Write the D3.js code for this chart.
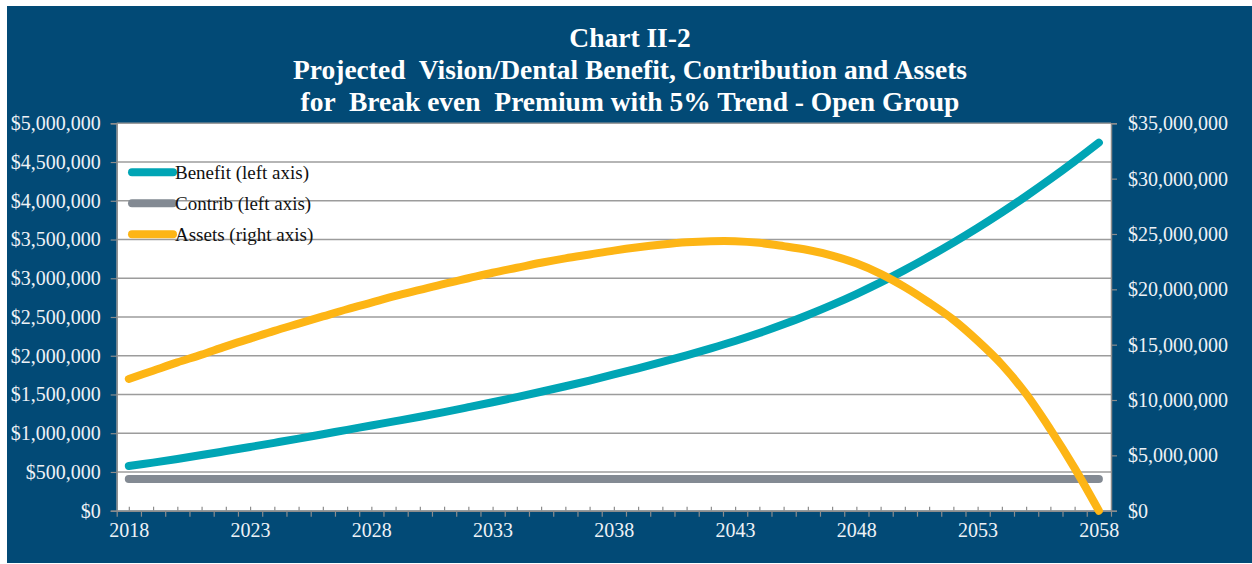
<!DOCTYPE html>
<html><head><meta charset="utf-8">
<script src="https://cdn.jsdelivr.net/npm/d3@7"></script>
<style>
html,body{margin:0;padding:0;background:#fff;}
svg{display:block;}
text{font-family:"Liberation Serif","Times New Roman",serif;}
</style></head>
<body>
<svg id="chart" width="1252" height="564"></svg>
<script>
const years = [2018,2019,2020,2021,2022,2023,2024,2025,2026,2027,2028,2029,2030,2031,2032,2033,2034,2035,2036,2037,2038,2039,2040,2041,2042,2043,2044,2045,2046,2047,2048,2049,2050,2051,2052,2053,2054,2055,2056,2057,2058];
const benefit = [576000,620000,668000,718000,770000,823000,876000,930000,987000,1043000,1100000,1156000,1213000,1273000,1336000,1400000,1466000,1535000,1606000,1680000,1758000,1838000,1920000,2005000,2095000,2190000,2293000,2405000,2526000,2656000,2796000,2946000,3108000,3280000,3460000,3650000,3850000,4060000,4280000,4510000,4750000];
const contrib = [410000,410000,410000,410000,410000,410000,410000,410000,410000,410000,410000,410000,410000,410000,410000,410000,410000,410000,410000,410000,410000,410000,410000,410000,410000,410000,410000,410000,410000,410000,410000,410000,410000,410000,410000,410000,410000,410000,410000,410000,410000];
const assets = [11900000,12650000,13400000,14100000,14850000,15550000,16250000,16900000,17550000,18200000,18800000,19400000,19950000,20500000,21000000,21500000,21950000,22400000,22800000,23150000,23500000,23800000,24050000,24250000,24350000,24350000,24200000,23900000,23550000,23050000,22350000,21400000,20200000,18800000,17250000,15350000,13200000,10550000,7350000,3850000,0];
const leftTicks = [0,500000,1000000,1500000,2000000,2500000,3000000,3500000,4000000,4500000,5000000];
const rightTicks = [0,5000000,10000000,15000000,20000000,25000000,30000000,35000000];
const yearLabels = [2018,2023,2028,2033,2038,2043,2048,2053,2058];
const titleLines = ["Chart II-2","Projected  Vision/Dental Benefit, Contribution and Assets","for  Break even  Premium with 5% Trend - Open Group"];
const seriesNames = ["Benefit (left axis)","Contrib (left axis)","Assets (right axis)"];
const seriesColors = ["#00a5b5","#838a93","#fdb515"];

const svg = d3.select("#chart");
const L = 116.7, R = 1111, T = 123.3, B = 510.7;
const navy = "#024a76";
const fmt = d3.format("$,");

svg.append("rect").attr("x",7).attr("y",6).attr("width",1245).attr("height",557).attr("fill",navy);
svg.append("rect").attr("x",L).attr("y",T).attr("width",R-L).attr("height",B-T).attr("fill","#fff");

const x = d3.scaleLinear().domain([years[0]-0.5, years[years.length-1]+0.5]).range([L,R]);
const yL = d3.scaleLinear().domain([0,5000000]).range([B,T]);
const yR = d3.scaleLinear().domain([0,35000000]).range([B,T]);

// gridlines
svg.append("g").selectAll("line").data(leftTicks.slice(1)).join("line")
  .attr("x1",L).attr("x2",R).attr("y1",d=>yL(d)).attr("y2",d=>yL(d))
  .attr("stroke","#9c9c9c").attr("stroke-width",1.4);

const axisColor = "#8c8c8c";
function styleAxis(g){
  g.select(".domain").attr("stroke",axisColor).attr("stroke-width",1.5);
  g.selectAll(".tick line").attr("stroke",axisColor).attr("stroke-width",1.2);
  g.selectAll("text").attr("fill","#eef2f6").style("font-size","20px").style("font-family","'Liberation Serif',serif");
}
// left axis
const gl = svg.append("g").attr("transform",`translate(${L},0)`)
  .call(d3.axisLeft(yL).tickValues(leftTicks).tickFormat(fmt).tickSize(6).tickPadding(10));
styleAxis(gl);
// right axis
const gr = svg.append("g").attr("transform",`translate(${R},0)`)
  .call(d3.axisRight(yR).tickValues(rightTicks).tickFormat(fmt).tickSize(6).tickPadding(11));
styleAxis(gr);
// x axis: minor inside ticks at category centres
const gxm = svg.append("g").attr("transform",`translate(0,${B})`)
  .call(d3.axisBottom(x).tickValues(years).tickFormat("").tickSizeInner(-4).tickSizeOuter(0));
styleAxis(gxm);
// x axis: major outside ticks at category boundaries
const bounds = years.map(d=>d-0.5).concat([years[years.length-1]+0.5]);
const gxb = svg.append("g").attr("transform",`translate(0,${B})`)
  .call(d3.axisBottom(x).tickValues(bounds).tickFormat("").tickSizeInner(6).tickSizeOuter(0));
styleAxis(gxb);
// x labels
const gxl = svg.append("g").attr("transform",`translate(0,${B})`)
  .call(d3.axisBottom(x).tickValues(yearLabels).tickFormat(d3.format("d")).tickSize(0).tickPadding(12));
styleAxis(gxl);
gxl.select(".domain").remove();

// series
const curve = d3.curveCatmullRom.alpha(0.5);
const lineL = d3.line().x((d,i)=>x(years[i])).y(d=>yL(d)).curve(curve);
const lineR = d3.line().x((d,i)=>x(years[i])).y(d=>yR(d)).curve(curve);
const g = svg.append("g").attr("fill","none").attr("stroke-width",8).attr("stroke-linecap","round").attr("stroke-linejoin","round");
g.append("path").attr("d",lineL(benefit)).attr("stroke",seriesColors[0]);
g.append("path").attr("d",lineL(contrib)).attr("stroke",seriesColors[1]);
g.append("path").attr("d",lineR(assets)).attr("stroke",seriesColors[2]);

// legend
const lg = svg.append("g");
seriesNames.forEach((n,i)=>{
  const yy = 172.3 + i*31;
  lg.append("line").attr("x1",132).attr("x2",173).attr("y1",yy).attr("y2",yy)
    .attr("stroke",seriesColors[i]).attr("stroke-width",8).attr("stroke-linecap","round");
  lg.append("text").attr("x",175).attr("y",yy).attr("dy","0.35em").attr("fill","#111")
    .style("font-size","19px").text(n);
});

// title
svg.append("g").selectAll("text").data(titleLines).join("text")
  .attr("x",630).attr("y",(d,i)=>47+i*32).attr("text-anchor","middle")
  .attr("fill","#fff").style("font-size","27.5px").style("font-weight","bold").style("white-space","pre")
  .text(d=>d);
</script>
</body></html>
